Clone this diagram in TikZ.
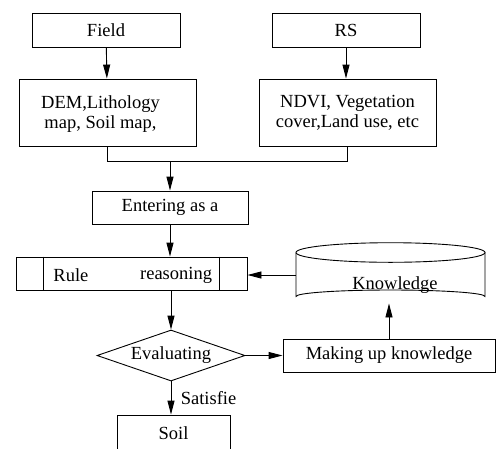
\documentclass[tikz,border=0pt]{standalone}
\usepackage{fontspec}
\setmainfont{Liberation Serif}
\usetikzlibrary{arrows.meta,shapes.geometric}
\begin{document}
\begin{tikzpicture}[x=1pt,y=-1pt,
  font=\fontsize{18.5}{20}\selectfont,
  line width=0.9pt,
  box/.style={draw, rectangle, inner sep=0pt},
  arr/.style={-{Triangle[length=14pt,width=7pt]}},
  plain/.style={-}]
\useasboundingbox (0,0) rectangle (496,448);
\node[box, minimum width=148, minimum height=34] (field) at (106,30) {Field};
\node[box, minimum width=148, minimum height=34] (rs) at (346,30) {RS};
\node[box, minimum width=177, minimum height=67, align=center, text depth=0pt] (dem) at (107.5,112.5) {\hspace*{-14pt}DEM,Lithology\\\hspace*{-14pt}map, Soil map,};
\node[box, minimum width=177, minimum height=67, align=center] (ndvi) at (347.5,112.5) {NDVI, Vegetation\\cover,Land use, etc};
\node[box, minimum width=156, minimum height=33] (enter) at (170,207.5) {Entering as a};
\node[box, minimum width=231, minimum height=33] (rule) at (131.5,273.5) {};
\draw ([xshift=28pt]rule.north west) -- ([xshift=28pt]rule.south west);
\draw ([xshift=-28pt]rule.north east) -- ([xshift=-28pt]rule.south east);
\node[anchor=west, inner sep=0pt] (rulet) at (53,275) {Rule};
\node[anchor=east, inner sep=0pt] (reas) at (212.5,275) {reasoning};
% knowledge cylinder
\node[rectangle, minimum width=189, minimum height=60, inner sep=0pt] (know) at (390.5,273) {};
\draw (390.5,252.5) ellipse [x radius=94.5, y radius=9.8];
\draw (296,252.5) -- (296,296.5) arc[start angle=180, end angle=360, x radius=94.5, y radius=6.5] -- (485,252.5);
\node[inner sep=0pt] (knowt) at (395,285) {Knowledge};
\node[draw, diamond, aspect=2.94, inner sep=0pt, minimum width=148, minimum height=51] (dia) at (171,355.5) {Evaluating};
\node[box, minimum width=212, minimum height=33] (mk) at (389,355.5) {Making up knowledge};
\node[box, minimum width=113, minimum height=37] (soil) at (173.5,433.5) {Soil};
\coordinate (m) at (170,161);
\draw[arr] (field) -- (dem);
\draw[arr] (rs.south) -- (rs.south |- ndvi.north);
\draw[plain] (dem.south) -- (dem.south |- m) -- (ndvi.south |- m) -- (ndvi.south);
\draw[arr] (m) -- (enter.north);
\draw[arr] (enter.south) -- (enter.south |- rule.north);
\draw[arr] (dia.north |- rule.south) -- (dia.north);
\draw[arr] (know.west) ++(0,2) -- ([yshift=-2pt]know.west -| rule.east);
\draw[arr] (dia.east) -- (dia.east -| mk.west);
\draw[arr] (mk.north) -- (mk.north |- know.south);
\draw[arr] (dia.south) -- (dia.south |- soil.north) node[pos=0.5, anchor=west, xshift=6pt] {Satisfie};
\end{tikzpicture}
\end{document}
